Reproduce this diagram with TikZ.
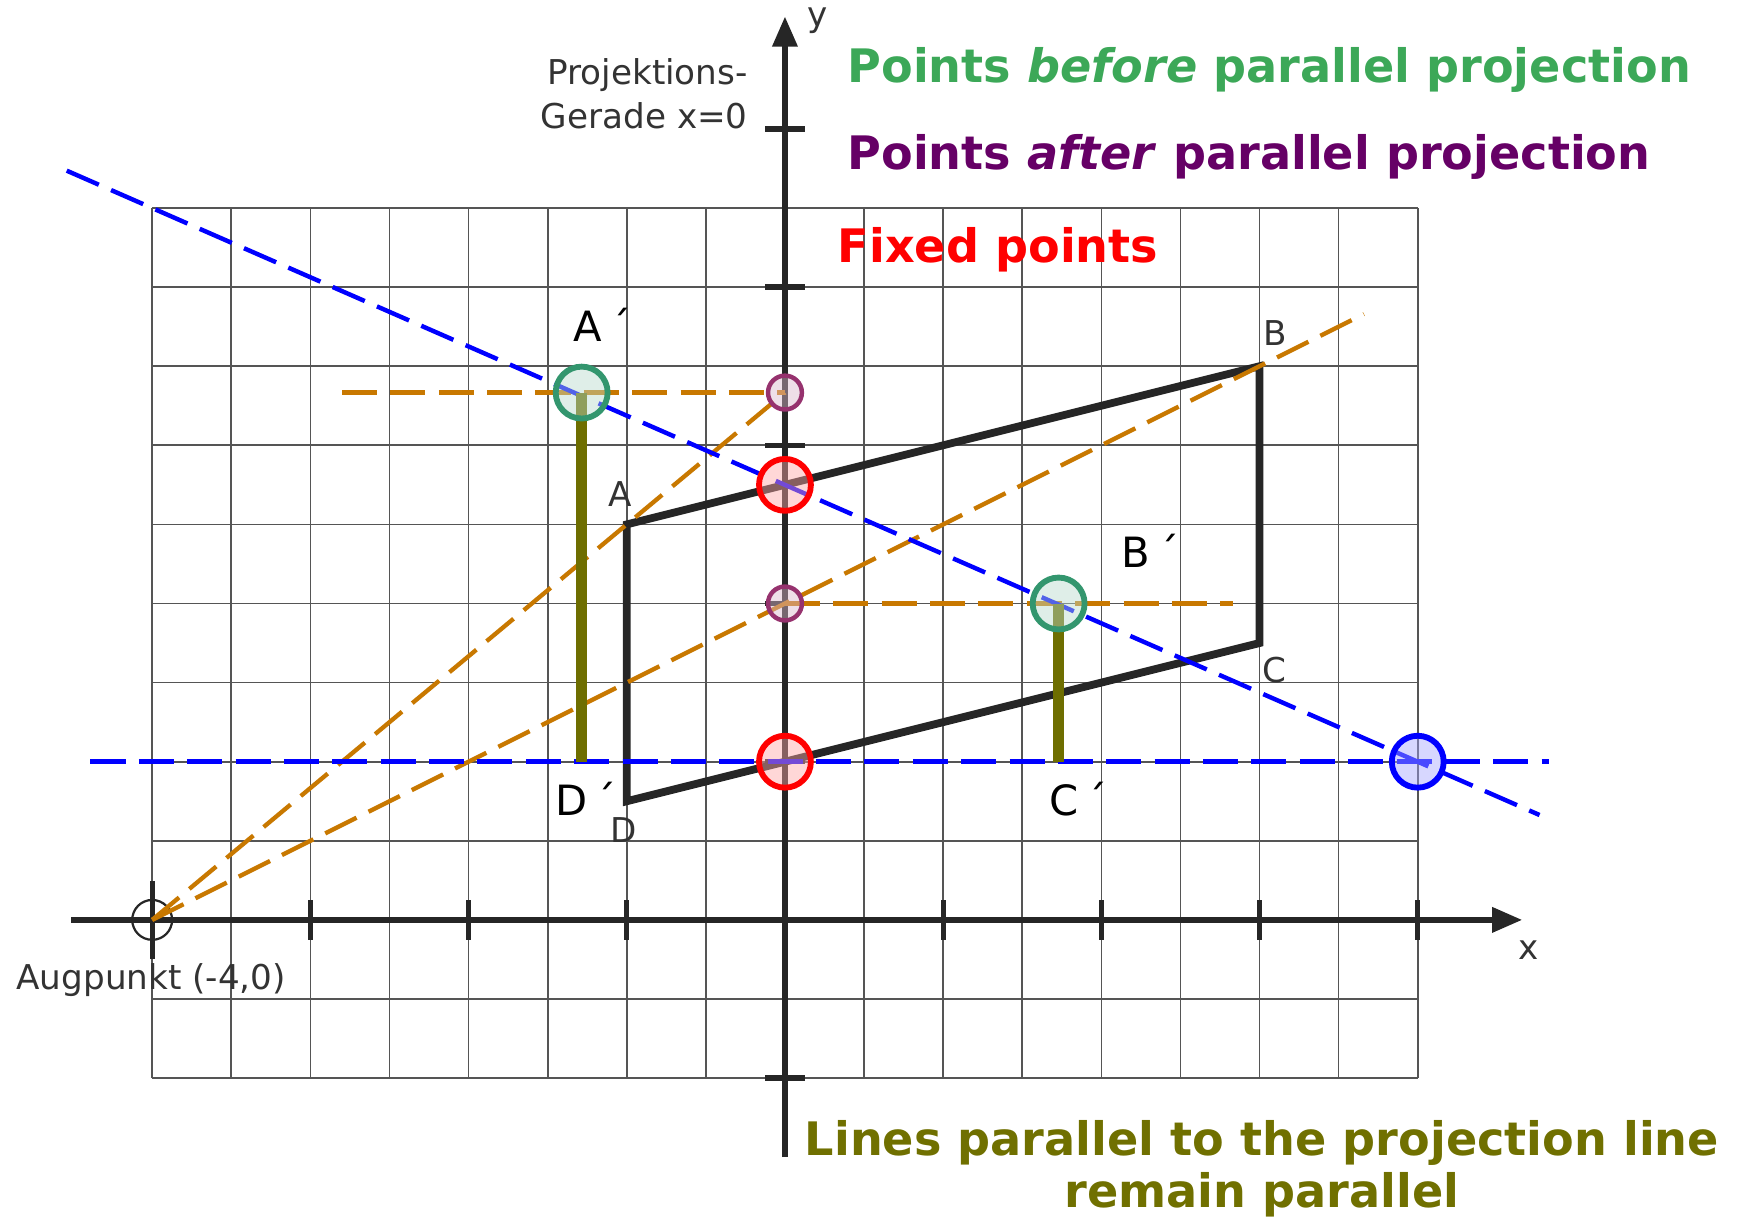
\documentclass[tikz,border=0pt]{standalone}
\usepackage{fontspec}
\setmainfont{DejaVu Sans}
\usetikzlibrary{arrows.meta}
\definecolor{gridgray}{RGB}{85,85,85}
\definecolor{axisblack}{RGB}{38,38,38}
\definecolor{labelgray}{RGB}{51,51,51}
\definecolor{projorange}{RGB}{200,120,0}
\definecolor{projblue}{RGB}{0,0,255}
\definecolor{olivebar}{RGB}{110,110,0}
\definecolor{headgreen}{RGB}{60,168,88}
\definecolor{headpurple}{RGB}{102,0,102}
\definecolor{headolive}{RGB}{112,112,0}
\definecolor{ptgreen}{RGB}{51,150,110}
\definecolor{ptpurple}{RGB}{150,50,110}
\tikzset{
  gridline/.style={draw=gridgray, line width=0.6pt},
  axisline/.style={draw=axisblack, line width=1.9pt, -{Triangle[length=10.8pt,width=8.8pt]}},
  tickmark/.style={draw=axisblack, line width=1.9pt},
  quadline/.style={draw=axisblack, line width=2.8pt, line join=miter},
  orangedash/.style={draw=projorange, line width=1.55pt, dash pattern=on 12.6pt off 4.8pt},
  bluedash/.style={draw=projblue, line width=1.6pt, dash pattern=on 12.6pt off 4.8pt},
  olivebarline/.style={draw=olivebar, line width=4.1pt},
  bigpt/.style={circle, minimum size=0.656cm, inner sep=0pt, line width=2.1pt},
  greenpt/.style={bigpt, draw=ptgreen, fill=ptgreen!35, fill opacity=0.45},
  redpt/.style={bigpt, draw=red, fill=red!35, fill opacity=0.45},
  bluept/.style={bigpt, draw=projblue, fill=projblue!35, fill opacity=0.45},
  purplept/.style={circle, minimum size=0.428cm, inner sep=0pt, line width=1.6pt, draw=ptpurple, fill=ptpurple!35, fill opacity=0.45},
  eyept/.style={circle, minimum size=0.504cm, inner sep=0pt, line width=0.8pt, draw=axisblack},
  primelabel/.style={inner sep=0pt, anchor=base west, text=black, font=\fontsize{15}{18}\selectfont},
  smlabel/.style={inner sep=0pt, anchor=base west, text=labelgray, font=\fontsize{12.3}{14.5}\selectfont},
  heading/.style={inner sep=0pt, anchor=base west, font=\fontsize{16.6}{20}\selectfont\bfseries},
}
\begin{document}
\begin{tikzpicture}[x=2cm,y=2cm]
\useasboundingbox (-4.962,-1.877) rectangle (6.075,5.815);
% grid
\draw[gridline] (-4,-1) grid[step=0.5] (4,4.5);
% axes
\coordinate (xl) at (-4.51,0);
\coordinate (xr) at (4.66,0);
\coordinate (yb) at (0,-1.5);
\coordinate (yt) at (0,5.71);
\draw[axisline] (xl) -- (xr);
\draw[axisline] (yb) -- (yt);
\foreach \t in {-3,...,4} \draw[tickmark] (\t,-0.126) -- (\t,0.126);
\foreach \t in {-1,1,2,3,4,5} \draw[tickmark] (-0.126,\t) -- (0.126,\t);
\draw[tickmark] (-4,-0.25) -- (-4,0.245);
\node[eyept] (O) at (-4,0) {};
% quadrilateral
\coordinate (A) at (-1,2.5);
\coordinate (B) at (3,3.5);
\coordinate (C) at (3,1.75);
\coordinate (D) at (-1,0.75);
\draw[quadline] (A) -- (B) -- (C) -- (D) -- cycle;
% key coordinates
\coordinate (Pa0) at (0,10/3);
\coordinate (Pb0) at (0,2);
\coordinate (Ap0) at (-1.285,10/3);
\coordinate (Bp0) at (1.73,2);
\coordinate (Dp) at (-1.285,1);
\coordinate (Cp) at (1.73,1);
\coordinate (oBend) at (3.66,3.83);
\coordinate (oAl) at (-2.8,10/3);
\coordinate (oBr) at (2.83,2);
\coordinate (bs1) at (-4.54,4.736);
\coordinate (bs2) at (4.77,0.663);
\coordinate (bh1) at (-4.39,1);
\coordinate (bh2) at (4.83,1);
% orange projection rays
\draw[orangedash] (O.center) -- (Pa0);
\draw[orangedash] (O.center) -- (oBend);
\draw[orangedash] (oAl) -- (Pa0);
\draw[orangedash] (Pb0) -- (oBr);
% blue lines
\draw[bluedash] (bs1) -- (bs2);
\draw[bluedash] (bh1) -- (bh2);
% olive bars
\draw[olivebarline] (Ap0) -- (Dp);
\draw[olivebarline] (Bp0) -- (Cp);
% points
\node[greenpt] (Ap) at (Ap0) {};
\node[greenpt] (Bp) at (Bp0) {};
\node[purplept] (Pa) at (Pa0) {};
\node[purplept] (Pb) at (Pb0) {};
\node[redpt] (F1) at (0,2.75) {};
\node[redpt] (F2) at (0,1) {};
\node[bluept] (Bl) at (4,1) {};
% labels
\node[primelabel] (lAp) at (-1.340,3.656) {A\kern3pt´};
\node[primelabel] (lBp) at (2.123,2.229) {B\kern3pt´};
\node[primelabel] (lCp) at (1.669,0.657) {C\kern3pt´};
\node[primelabel] (lDp) at (-1.457,0.657) {D\kern3pt´};
\node[smlabel] (lA) at (-1.119,2.613) {A};
\node[smlabel] (lB) at (3.022,3.628) {B};
\node[smlabel] (lC) at (3.013,1.502) {C};
\node[smlabel] (lD) at (-1.106,0.487) {D};
\node[smlabel] (lx) at (4.633,-0.253) {x};
\node[smlabel] (ly) at (0.137,5.646) {y};
\node[smlabel, anchor=base east] (lp1) at (-0.232,5.278) {Projektions-};
\node[smlabel, anchor=base east] (lp2) at (-0.232,5.004) {Gerade x=0};
\node[smlabel] (laug) at (-4.861,-0.438) {Augpunkt (-4,0)};
% headings
\node[heading, text=headgreen] (h1) at (0.392,5.293) {Points \textit{before} parallel projection};
\node[heading, text=headpurple] (h2) at (0.392,4.741) {Points \textit{after} parallel projection};
\node[heading, text=red] (h3) at (0.331,4.153) {Fixed points};
\node[heading, text=headolive, anchor=base] (h4) at (3.015,-1.492) {Lines parallel to the projection line};
\node[heading, text=headolive, anchor=base] (h5) at (3.015,-1.82) {remain parallel};
\end{tikzpicture}
\end{document}
